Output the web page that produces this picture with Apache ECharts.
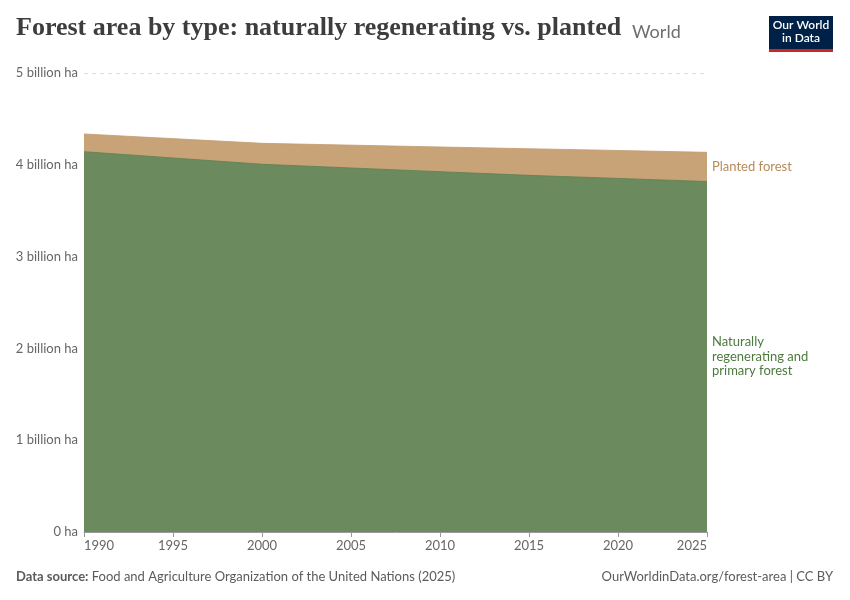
<!DOCTYPE html>
<html>
<head>
<meta charset="utf-8">
<script src="https://cdn.jsdelivr.net/npm/echarts@6/dist/echarts.min.js"></script>
<style>
html,body{margin:0;padding:0;background:#fff;}
#c{width:850px;height:600px;}
</style>
</head>
<body>
<div id="c"></div>
<script>
const years = [1990, 2000, 2010, 2015, 2020, 2025];
const naturalForest = [4.143e9, 4.006e9, 3.925e9, 3.885e9, 3.852e9, 3.818e9];
const plantedForest = [0.193e9, 0.228e9, 0.269e9, 0.290e9, 0.304e9, 0.318e9];
const yTicks = [0, 1e9, 2e9, 3e9, 4e9, 5e9];
const xTicks = [1990, 1995, 2000, 2005, 2010, 2015, 2020, 2025];

// stacked top of the planted band = natural + planted
const totalForest = naturalForest.map((v, i) => v + plantedForest[i]);

const chart = echarts.init(document.getElementById('c'), null, {renderer: 'canvas'});

function fmtY(v) {
  if (v === 0) return '0 ha';
  return (v / 1e9) + ' billion ha';
}

const option = {
  backgroundColor: '#ffffff',
  animation: false,
  grid: {left: 84, right: 143, top: 73, bottom: 68},
  xAxis: {
    type: 'value',
    min: 1990, max: 2025, interval: 5,
    axisLine: {show: true, lineStyle: {color: '#999999', width: 1}},
    axisTick: {show: true, length: 5, lineStyle: {color: '#999999'}},
    splitLine: {show: false},
    axisLabel: {
      color: '#666666', fontFamily: 'Lato', fontSize: 13, margin: 7,
      alignMinLabel: 'left', alignMaxLabel: 'right',
      formatter: v => String(v)
    }
  },
  yAxis: {
    type: 'value',
    min: 0, max: 5e9, interval: 1e9,
    axisLine: {show: false},
    axisTick: {show: false},
    splitLine: {show: true, lineStyle: {color: '#dddddd', type: [4, 4], width: 1}},
    axisLabel: {
      color: '#666666', fontFamily: 'Lato', fontSize: 13, margin: 6,
      formatter: fmtY
    }
  },
  series: [
    {
      name: 'Planted forest',
      type: 'line', symbol: 'none',
      data: years.map((y, i) => [y, totalForest[i]]),
      lineStyle: {width: 0.8, color: '#c29a6e'},
      areaStyle: {color: '#c8a377', opacity: 1},
      z: 1
    },
    {
      name: 'Naturally regenerating and primary forest',
      type: 'line', symbol: 'none',
      data: years.map((y, i) => [y, naturalForest[i]]),
      lineStyle: {width: 0.8, color: '#5f7f52'},
      areaStyle: {color: '#6b8a5e', opacity: 1},
      z: 2
    }
  ],
  graphic: [
    {type: 'text', left: 16, top: 15, style: {text: 'Forest area by type: naturally regenerating vs. planted', font: '600 26px "Liberation Serif", "DejaVu Serif", serif', fill: '#3d3d3d'}},
    {type: 'text', left: 632, top: 23, style: {text: 'World', font: '18px Lato, sans-serif', fill: '#6e6e6e'}},
    {type: 'rect', left: 769, top: 16, shape: {width: 64, height: 34}, style: {fill: '#002147'}},
    {type: 'rect', left: 769, top: 49, shape: {width: 64, height: 3}, style: {fill: '#ce261e'}},
    {type: 'text', x: 801, y: 19, style: {text: 'Our World\nin Data', font: '600 12px Lato, sans-serif', fill: '#ffffff', align: 'center', verticalAlign: 'top', lineHeight: 13}},
    {type: 'text', left: 712, top: 160, style: {text: 'Planted forest', font: '13px Lato, sans-serif', fill: '#b88a5a'}},
    {type: 'text', left: 712, top: 335, style: {text: 'Naturally\nregenerating and\nprimary forest', font: '13px Lato, sans-serif', fill: '#4c7a3e', lineHeight: 14.5}},
    {type: 'text', left: 16, top: 570, style: {rich: {b: {font: '700 13px Lato, sans-serif', fill: '#5b5b5b'}, n: {font: '13px Lato, sans-serif', fill: '#5b5b5b'}}, text: '{b|Data source:} {n|Food and Agriculture Organization of the United Nations (2025)}'}},
    {type: 'text', right: 17, top: 570, style: {text: 'OurWorldinData.org/forest-area | CC BY', font: '13px Lato, sans-serif', fill: '#5b5b5b', align: 'right'}}
  ]
};
chart.setOption(option);
</script>
</body>
</html>
